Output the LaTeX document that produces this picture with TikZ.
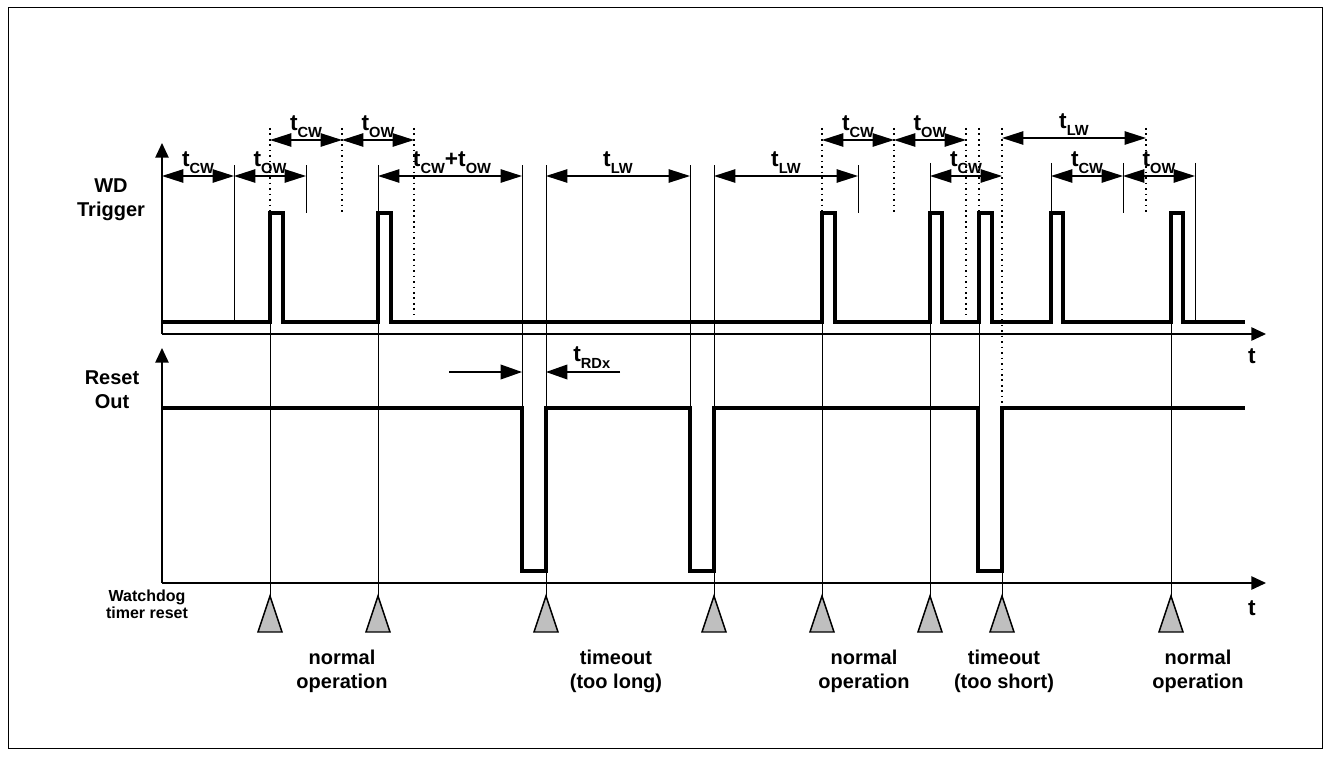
\documentclass[tikz,border=0pt]{standalone}
\usepackage{fontspec}
\setmainfont{Liberation Sans}
\usetikzlibrary{arrows.meta}
\newcommand\tl[1]{t\raisebox{-0.33em}{\fontsize{11}{12}\selectfont #1}}
\begin{document}
\begin{tikzpicture}[x=0.75pt,y=-0.75pt,
  sig/.style={line width=2.6pt, line join=miter},
  thinl/.style={line width=0.7pt},
  dotl/.style={line width=1.3pt, dash pattern=on 1.2pt off 2.9pt},
  axis/.style={line width=1.2pt, -{Triangle[length=11pt,width=10pt]}},
  dim/.style={line width=1.1pt, {Triangle[length=16pt,width=10pt]}-{Triangle[length=16pt,width=10pt]}},
  half/.style={line width=1.1pt, -{Triangle[length=16pt,width=11pt]}},
  lbl/.style={font=\bfseries\fontsize{17}{18}\selectfont, inner sep=0pt, anchor=south},
  big/.style={font=\bfseries\fontsize{15}{18}\selectfont, align=center, inner sep=0pt},
  small/.style={font=\bfseries\fontsize{12}{13}\selectfont, align=center, inner sep=0pt},
  tri/.style={draw, fill=black!25, line width=1.1pt, line join=miter}
]
\useasboundingbox (0,0) rectangle (1330,756);
\draw[line width=0.75pt] (8,8) rectangle (1322,748);

% thin solid verticals
\foreach \x/\a/\b in {234/165/322, 306/165/213, 378/165/596, 270/322/596,
  522/165/408, 546/165/596, 690/165/408, 714/165/596, 858/165/213,
  822/322/596, 930/163/596, 979/322/408, 1002/571/596, 1051/163/213,
  1123/163/213, 1195/163/322, 1171/322/596}
  \draw[thinl] (\x,\a) -- (\x,\b);
% dotted verticals
\foreach \x/\a/\b in {270/128/213, 342/128/215, 414/128/317, 822/128/213,
  894/128/213, 966/128/317, 979/128/213, 1002/128/408, 1146/128/213}
  \draw[dotl] (\x,\a) -- (\x,\b);

% axes
\coordinate (o1) at (162,334);
\coordinate (o2) at (162,583);
\draw[axis] (o1) -- (162,143);
\draw[axis] (o1) -- (1266,334);
\draw[axis] (o2) -- (162,348);
\draw[axis] (o2) -- (1266,583);
\node[lbl, anchor=center] (t1) at (1252,356) {t};
\node[lbl, anchor=center] (t2) at (1252,608) {t};

% WD trigger signal
\draw[sig] (162,322) -- (270,322) -- (270,213) -- (283,213) -- (283,322)
  -- (378,322) -- (378,213) -- (391,213) -- (391,322)
  -- (822,322) -- (822,213) -- (835,213) -- (835,322)
  -- (930,322) -- (930,213) -- (942,213) -- (942,322)
  -- (979,322) -- (979,213) -- (992,213) -- (992,322)
  -- (1051,322) -- (1051,213) -- (1063,213) -- (1063,322)
  -- (1171,322) -- (1171,213) -- (1183,213) -- (1183,322) -- (1245,322);

% Reset out signal
\draw[sig] (162,408) -- (522,408) -- (522,571) -- (546,571) -- (546,408)
  -- (690,408) -- (690,571) -- (714,571) -- (714,408)
  -- (978,408) -- (978,571) -- (1002,571) -- (1002,408) -- (1245,408);

% dimension arrows, upper row
\draw[dim] (270,140) -- (342,140);
\draw[dim] (342,140) -- (414,140);
\draw[dim] (822,140) -- (894,140);
\draw[dim] (894,140) -- (966,140);
\draw[dim] (1002,138) -- (1146,138);
\node[lbl] (u1) at (306,138) {\tl{CW}};
\node[lbl] (u2) at (378,138) {\tl{OW}};
\node[lbl] (u3) at (858,138) {\tl{CW}};
\node[lbl] (u4) at (930,138) {\tl{OW}};
\node[lbl] (u5) at (1074,136) {\tl{LW}};

% dimension arrows, lower row
\draw[dim] (162,176) -- (234,176);
\draw[dim] (234,176) -- (306,176);
\draw[dim] (378,176) -- (522,176);
\draw[dim] (546,176) -- (690,176);
\draw[dim] (714,176) -- (858,176);
\draw[dim] (930,176) -- (1002,176);
\draw[dim] (1051,176) -- (1123,176);
\draw[dim] (1123,176) -- (1195,176);
\node[lbl] (d1) at (198,174) {\tl{CW}};
\node[lbl] (d2) at (270,174) {\tl{OW}};
\node[lbl] (d3) at (452,174) {\tl{CW}+\tl{OW}};
\node[lbl] (d4) at (618,174) {\tl{LW}};
\node[lbl] (d5) at (786,174) {\tl{LW}};
\node[lbl] (d6) at (966,174) {\tl{CW}};
\node[lbl] (d7) at (1087,174) {\tl{CW}};
\node[lbl] (d8) at (1159,174) {\tl{OW}};

% t_RDx
\draw[half] (449,372) -- (522,372);
\draw[half] (620,372) -- (546,372);
\node[lbl, anchor=south west] (rdx) at (573,369) {\tl{RDx}};

% side labels
\node[big] (wd) at (111,200) {WD\\Trigger};
\node[big] (ro) at (112,390) {Reset\\Out};
\node[small] (wt) at (147,604) {Watchdog\\timer reset};

% watchdog reset triangles
\foreach \x [count=\i] in {270,378,546,714,822,930,1002,1171}
  \draw[tri] (\x,596) -- (\x+12,632) -- (\x-12,632) -- cycle;

% bottom captions
\node[big] (c1) at (342,671) {normal\\operation};
\node[big] (c2) at (616,671) {timeout\\(too long)};
\node[big] (c3) at (864,671) {normal\\operation};
\node[big] (c4) at (1004,671) {timeout\\(too short)};
\node[big] (c5) at (1198,671) {normal\\operation};
\end{tikzpicture}
\end{document}
